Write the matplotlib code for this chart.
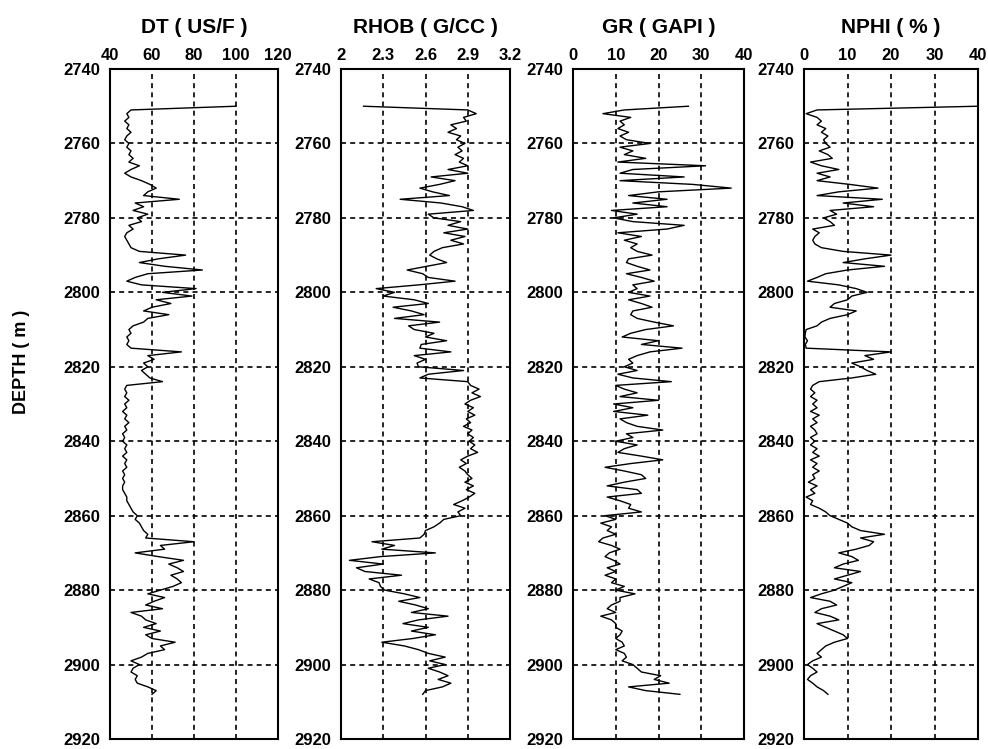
import numpy as np
import matplotlib
matplotlib.use("Agg")
import matplotlib.pyplot as plt

plt.rcParams['font.family'] = ['Liberation Sans', 'DejaVu Sans']

START_DEPTH = 2750  # first sample depth (m), 1 m sampling

DT = [100, 50, 48, 49, 47, 49, 48, 50, 48, 47,
      49, 48, 50, 49, 51, 49, 54, 50, 47, 50,
      55, 59, 62, 58, 56, 73, 52, 56, 51, 58,
      53, 55, 49, 51, 48, 47, 48, 49, 50, 54,
      76, 63, 54, 66, 84, 58, 52, 48, 55, 81,
      65, 79, 62, 69, 60, 56, 68, 58, 56, 51,
      49, 50, 48, 49, 48, 50, 74, 58, 61, 56,
      58, 55, 57, 59, 65, 48, 47, 48, 47, 49,
      47, 48, 46, 48, 47, 49, 47, 48, 46, 47,
      46, 48, 47, 48, 46, 48, 47, 48, 46, 47,
      46, 47, 46, 46, 47, 48, 48, 49, 50, 51,
      53, 52, 54, 55, 56, 58, 57, 80, 64, 66,
      52, 63, 75, 68, 72, 75, 69, 72, 74, 70,
      64, 58, 66, 61, 57, 65, 50, 55, 57, 62,
      56, 64, 57, 60, 71, 64, 66, 58, 55, 50,
      54, 51, 50, 53, 52, 53, 58, 62, 60]

RHOB = [2.16, 2.90, 2.96, 2.87, 2.89, 2.78, 2.82, 2.76, 2.85, 2.82,
        2.88, 2.83, 2.86, 2.81, 2.87, 2.84, 2.90, 2.76, 2.90, 2.64,
        2.81, 2.70, 2.56, 2.65, 2.77, 2.42, 2.71, 2.86, 2.94, 2.62,
        2.66, 2.85, 2.76, 2.90, 2.73, 2.88, 2.78, 2.87, 2.72, 2.66,
        2.63, 2.68, 2.75, 2.61, 2.47, 2.58, 2.62, 2.81, 2.55, 2.25,
        2.38, 2.30, 2.52, 2.62, 2.37, 2.50, 2.59, 2.38, 2.70, 2.48,
        2.52, 2.66, 2.60, 2.75, 2.57, 2.56, 2.78, 2.52, 2.60, 2.54,
        2.55, 2.87, 2.62, 2.56, 2.90, 2.92, 2.98, 2.93, 2.99, 2.92,
        2.88, 2.94, 2.90, 2.95, 2.89, 2.92, 2.87, 2.93, 2.90, 2.94,
        2.91, 2.95, 2.92, 2.97, 2.90, 2.85, 2.89, 2.84, 2.88, 2.90,
        2.93, 2.88, 2.94, 2.89, 2.95, 2.91, 2.86, 2.80, 2.88, 2.83,
        2.85, 2.73, 2.70, 2.66, 2.60, 2.59, 2.56, 2.22, 2.38, 2.29,
        2.67, 2.28, 2.06, 2.30, 2.11, 2.17, 2.43, 2.20, 2.27, 2.28,
        2.31, 2.45, 2.56, 2.41, 2.53, 2.62, 2.50, 2.76, 2.55, 2.44,
        2.62, 2.50, 2.67, 2.51, 2.29, 2.45, 2.55, 2.62, 2.74, 2.63,
        2.74, 2.62, 2.70, 2.76, 2.69, 2.78, 2.72, 2.60, 2.58]

GR = [27, 12, 7, 13.5, 11, 12, 10.5, 13, 11, 12.5,
      18, 11, 14, 12, 17, 10.5, 31, 14, 11, 26,
      11, 28, 37, 20, 13, 22, 14, 22, 9, 15,
      9.5, 14, 26, 22, 10.5, 16, 12, 15, 13.5, 15,
      18.5, 13, 12.5, 15, 18, 12.5, 16, 19, 14, 15,
      13, 18, 13, 16, 18.5, 14, 13.5, 15, 19, 23.5,
      17, 13.5, 11.5, 20, 16, 25.5, 18, 15, 13, 14,
      12, 15, 10.5, 14, 23, 10, 12, 15, 11, 20,
      9.5, 14, 9.5, 17.5, 11, 12.5, 15, 21, 12.5, 14,
      10, 15, 12, 10.5, 16, 21, 13.5, 7.5, 12, 16,
      17, 12, 8, 15, 16, 8, 11, 13.5, 13, 16,
      7.5, 10, 6.5, 9, 8, 10, 7, 6, 9, 11,
      8.5, 7.5, 9.5, 11, 8, 10, 7.5, 10, 9, 12,
      10, 14.5, 11, 11, 9, 8, 10, 6.5, 9, 10,
      10, 11.5, 11, 10, 11.5, 12, 10, 12, 12.5, 11.5,
      14, 15, 16, 20.5, 19, 22.5, 13, 17, 25]

NPHI = [40, 3, 0.5, 3, 4, 3, 5, 4, 5.5, 4.5,
        5, 6, 3.5, 5.5, 6.5, 1.5, 4, 8, 3, 6,
        3, 10.5, 17, 8, 3, 18, 9, 16, 6, 7.5,
        4.5, 6, 7, 2, 3.5, 2.5, 2, 2.5, 4, 9,
        20, 14, 9, 18.5, 10, 5, 3, 0.8, 8, 12,
        14.5, 11, 10, 7, 6, 12, 10, 6, 4, 3,
        0.5, 0.3, 0.2, 0.8, 0.3, 0.5, 20, 14, 16, 11,
        13, 14.5, 16.5, 11, 3.5, 2, 1.5, 2.5, 1.5, 3,
        2, 3, 1.5, 3.5, 2, 3, 1.5, 2.5, 3, 1.5,
        2.5, 1.5, 3, 2, 3.5, 1.5, 3, 2, 3.5, 2,
        2.5, 1, 3, 1.5, 2.5, 0.5, 2, 1.5, 3.5, 5,
        6, 8, 10, 11, 13, 18.5, 13, 16, 15, 12,
        8, 11, 12.5, 9, 7, 13, 10, 7, 11, 9,
        7, 4, 1.5, 6, 7.5, 4, 2.5, 6, 8, 3,
        5, 7, 9, 10, 7, 5, 4, 3, 4, 2,
        0.8, 2, 3, 1.5, 0.8, 2, 3, 4.5, 5.5]

TITLES = ["DT ( US/F )", "RHOB ( G/CC )", "GR ( GAPI )", "NPHI ( % )"]
SERIES = [DT, RHOB, GR, NPHI]
XTICKS = [[40, 60, 80, 100, 120],
          [2, 2.3, 2.6, 2.9, 3.2],
          [0, 10, 20, 30, 40],
          [0, 10, 20, 30, 40]]
XTICKLABELS = [["40", "60", "80", "100", "120"],
               ["2", "2.3", "2.6", "2.9", "3.2"],
               ["0", "10", "20", "30", "40"],
               ["0", "10", "20", "30", "40"]]
YTICKS = [2740, 2760, 2780, 2800, 2820, 2840, 2860, 2880, 2900, 2920]

W, H = 988, 749
fig = plt.figure(figsize=(W / 100, H / 100), dpi=100)

lefts = [110, 341, 573, 804]
widths = [168, 169, 171, 174]
top_px, bot_px = 69, 739

for i in range(4):
    ax = fig.add_axes([lefts[i] / W, 1 - bot_px / H, widths[i] / W, (bot_px - top_px) / H])
    vals = np.array(SERIES[i], dtype=float)
    depth = START_DEPTH + np.arange(len(vals))
    ax.plot(vals, depth, color='black', lw=1.0, zorder=3)
    ax.set_xlim(XTICKS[i][0], XTICKS[i][-1])
    ax.set_ylim(YTICKS[-1], YTICKS[0])
    ax.set_xticks(XTICKS[i])
    ax.set_xticklabels(XTICKLABELS[i])
    ax.set_yticks(YTICKS)
    ax.set_yticklabels([str(t) for t in YTICKS])
    ax.xaxis.tick_top()
    ax.tick_params(axis='both', length=0, labelsize=12)
    ax.tick_params(axis='x', pad=4)
    ax.tick_params(axis='y', pad=7)
    for lab in ax.get_xticklabels() + ax.get_yticklabels():
        lab.set_fontweight('bold')
    for t in XTICKS[i][1:-1]:
        ax.axvline(t, color='black', lw=1.2, ls=(0, (3, 2.5)), zorder=1)
    for t in YTICKS[1:-1]:
        ax.axhline(t, color='black', lw=1.2, ls=(0, (3, 2.5)), zorder=1)
    for s in ax.spines.values():
        s.set_linewidth(1.5)
    ax.set_title(TITLES[i], fontsize=15, fontweight='bold', pad=26)

fig.text(22 / W, 1 - 362 / H, "DEPTH ( m )", rotation=90, ha='center', va='center',
         fontsize=13, fontweight='bold')

fig.savefig("out.png", dpi=100)
